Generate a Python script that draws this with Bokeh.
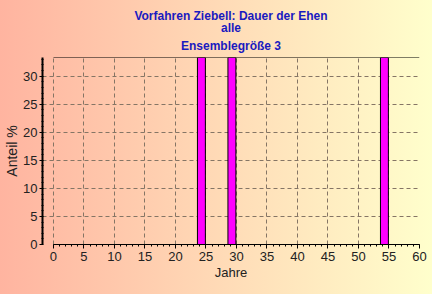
from bokeh.plotting import figure
from bokeh.models import Range1d, FixedTicker, Title
from bokeh.transform import dodge
from bokeh.embed import file_html
from bokeh.resources import INLINE

# data
years = [24, 29, 54]
shares = [33.33, 33.33, 33.33]
x_ticks = [0, 5, 10, 15, 20, 25, 30, 35, 40, 45, 50, 55, 60]
y_ticks = [0, 5, 10, 15, 20, 25, 30]
title_lines = ["Vorfahren Ziebell: Dauer der Ehen", "alle", "Ensemblegröße 3"]
x_label = "Jahre"
y_label = "Anteil %"

FONT = "Liberation Sans"
YMAX = 33.33

p = figure(width=432, height=294, output_backend="svg", toolbar_location=None,
           x_range=Range1d(-1.8, 60), y_range=Range1d(0, YMAX),
           min_border_left=42, min_border_right=13, min_border_top=57, min_border_bottom=50)
p.background_fill_alpha = 0
p.border_fill_alpha = 0
p.outline_line_color = None
p.styles = {"background": "linear-gradient(to right, #FFB4A0, #FFFFCC)"}
p.title = None

standoffs = [10, -6, -3]      # Ensemble, alle, Vorfahren (bottom to top)
line_heights = [0.8, 0.95, 0.95]
for line, so, lh in zip(reversed(title_lines), standoffs, line_heights):
    p.add_layout(Title(text=line, align="center", text_color="#1A1AC0",
                       text_font=FONT, text_font_size="12px", text_font_style="bold",
                       offset=-14, standoff=so, text_line_height=lh), "above")

# grid
for g in (p.xgrid, p.ygrid):
    g.grid_line_color = "#857565"
    g.grid_line_dash = "4 3"
    g.grid_line_width = 1
p.xgrid.ticker = FixedTicker(ticks=x_ticks)
p.ygrid.ticker = FixedTicker(ticks=y_ticks)

# top border
p.segment(x0=[0], x1=[60], y0=[YMAX], y1=[YMAX], line_color="black", line_width=1)

p.vbar(x=dodge("x", 0.25, range=p.x_range), top="top", width=1.3, bottom=0,
       source=dict(x=years, top=shares),
       fill_color="#FF00FF", line_color="black", line_width=1)

xa = p.xaxis[0]
xa.ticker = FixedTicker(ticks=x_ticks, minor_ticks=list(range(0, 61)))
xa.bounds = (0, 60)
xa.axis_line_color = "black"
xa.axis_line_width = 1
xa.major_tick_in = 0
xa.major_tick_out = 4
xa.minor_tick_in = 0
xa.minor_tick_out = 2
xa.axis_label = x_label

ya = p.yaxis[0]
ya.ticker = FixedTicker(ticks=y_ticks, minor_ticks=list(range(0, 34)))
ya.axis_line_color = "black"
ya.axis_line_width = 2
ya.major_tick_in = 0
ya.major_tick_out = 3
ya.minor_tick_in = 1
ya.minor_tick_out = 1
ya.axis_label = y_label

for ax in (xa, ya):
    ax.major_label_text_font = FONT
    ax.major_label_text_font_size = "13px"
    ax.major_label_text_color = "#222222"
    ax.axis_label_text_font = FONT
    ax.axis_label_text_font_style = "normal"
    ax.axis_label_text_color = "#222222"
    ax.major_tick_line_color = "black"
    ax.minor_tick_line_color = "black"
xa.major_label_standoff = 3
ya.major_label_standoff = 2
xa.axis_label_text_font_size = "13px"
ya.axis_label_text_font_size = "14px"
xa.axis_label_standoff = 1
ya.axis_label_standoff = 0

open("out.html", "w").write(file_html(p, INLINE))
